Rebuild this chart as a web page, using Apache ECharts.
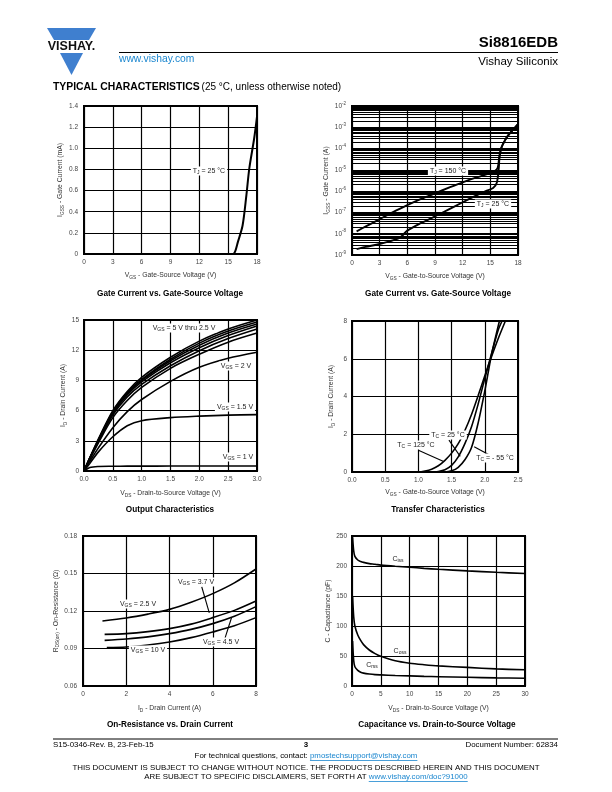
<!DOCTYPE html>
<html><head><meta charset="utf-8">
<script src="https://cdn.jsdelivr.net/npm/echarts@6/dist/echarts.min.js"></script>
<style>html,body{margin:0;padding:0;background:#fff}#c{width:612px;height:792px}</style>
</head><body><div id="c"></div>
<script>
// ---------- DATA ----------
// Chart 1: Gate current (mA) vs VGS, TJ = 25 °C
const g1Vgs  = [0.5, 3, 6, 9, 12, 15, 15.5, 15.75, 16.0, 16.5, 16.9, 17.2, 17.7, 18.0];
const g1Igss = [0, 0, 0, 0, 0, 0, 0, 0.03, 0.11, 0.27, 0.56, 0.81, 1.09, 1.3];

// Chart 2: Gate current (A, log) vs VGS
const g2Vgs150  = [0.5, 1.5, 3, 4.5, 6, 7.5, 9, 10.5, 12, 13.5, 15, 15.5, 15.8, 16.0, 16.2, 16.6, 17.0, 17.5, 18.0];
const g2Igss150 = [1.3e-8, 2.2e-8, 4.8e-8, 1.07e-7, 2.2e-7, 4.3e-7, 7.9e-7, 1.45e-6, 2.6e-6, 4.4e-6, 7.1e-6, 8.9e-6, 1.26e-5, 5.0e-5, 1.1e-4, 2.5e-4, 4.5e-4, 7.9e-4, 1.4e-3];
const g2Vgs25   = [0.5, 1.5, 3, 4.5, 5.3, 6, 7.5, 9, 10.5, 12, 13.5, 14.5, 15.3, 15.7, 15.9, 16.0, 16.2, 16.6, 17.0, 17.5, 18.0];
const g2Igss25  = [1.9e-9, 2.4e-9, 3.3e-9, 5.0e-9, 7.1e-9, 1.4e-8, 3.2e-8, 6.5e-8, 1.4e-7, 3.0e-7, 6.3e-7, 1.0e-6, 1.4e-6, 2.5e-6, 1.0e-5, 4.0e-5, 1.1e-4, 2.5e-4, 4.5e-4, 7.9e-4, 1.4e-3];

// Chart 3: Output characteristics, ID (A) vs VDS (V)
const ocVds   = [0, 0.1, 0.25, 0.5, 0.75, 1.0, 1.5, 2.0, 2.5, 3.0];
const ocId5   = [0, 1.3, 3.2, 6.0, 7.9, 9.3, 11.3, 12.9, 14.1, 15.0];
const ocId45  = [0, 1.3, 3.1, 5.9, 7.8, 9.1, 11.1, 12.7, 13.9, 14.8];
const ocId4   = [0, 1.28, 3.05, 5.8, 7.7, 9.0, 10.95, 12.5, 13.7, 14.6];
const ocId35  = [0, 1.25, 3.0, 5.7, 7.55, 8.85, 10.75, 12.25, 13.45, 14.4];
const ocId3   = [0, 1.22, 2.95, 5.55, 7.35, 8.6, 10.45, 11.95, 13.15, 14.1];
const ocId25  = [0, 1.15, 2.8, 5.3, 7.0, 8.3, 10.2, 11.6, 12.8, 13.7];
const ocId2   = [0, 0.95, 2.3, 4.3, 5.9, 7.1, 8.9, 10.3, 11.2, 11.8];
const ocId15  = [0, 0.75, 1.9, 3.4, 4.5, 5.0, 5.3, 5.45, 5.55, 5.6];
const ocId1   = [0, 0.35, 0.45, 0.47, 0.48, 0.48, 0.49, 0.49, 0.5, 0.5];

// Chart 4: Transfer characteristics, ID (A) vs VGS (V)
const trVgs125 = [0.0, 0.5, 1.0, 1.1, 1.2, 1.3, 1.4, 1.5, 1.6, 1.7, 1.8, 1.9, 2.0, 2.1, 2.2, 2.31];
const trId125  = [0, 0, 0.0, 0.05, 0.15, 0.33, 0.62, 1.0, 1.5, 2.2, 3.05, 4.05, 5.1, 6.1, 7.05, 8.0];
const trVgs25  = [0.0, 0.5, 1.0, 1.2, 1.3, 1.4, 1.5, 1.6, 1.7, 1.8, 1.9, 2.0, 2.1, 2.2, 2.26];
const trId25   = [0, 0, 0, 0.0, 0.03, 0.12, 0.35, 0.8, 1.5, 2.4, 3.6, 4.95, 6.25, 7.5, 8.0];
const trVgsM55 = [0.0, 0.5, 1.0, 1.4, 1.5, 1.6, 1.7, 1.8, 1.9, 2.0, 2.05, 2.1, 2.22];
const trIdM55  = [0, 0, 0, 0.0, 0.06, 0.25, 0.65, 1.3, 2.6, 4.3, 5.25, 6.2, 8.0];

// Chart 5: On-resistance (Ω) vs ID (A)
const ronId25  = [0.9, 2, 3, 4, 5, 6, 7, 8];
const ronR25   = [0.112, 0.1144, 0.1175, 0.1213, 0.127, 0.1339, 0.1425, 0.1536];
const ronId    = [1.0, 2, 3, 4, 5, 6, 7, 8];
const ronR37   = [0.1013, 0.1019, 0.1035, 0.1059, 0.1095, 0.1147, 0.1205, 0.128];
const ronR45   = [0.0965, 0.0976, 0.0993, 0.1019, 0.1053, 0.1099, 0.1158, 0.1235];
const ronId10  = [1.1, 2, 3, 4, 5, 6, 7, 8];
const ronR10   = [0.0907, 0.0912, 0.0928, 0.0952, 0.0987, 0.1032, 0.1082, 0.1147];

// Chart 6: Capacitance (pF) vs VDS (V)
const capVds  = [0.1, 0.3, 0.5, 1, 1.5, 2, 3, 4, 5, 7.5, 10, 12.5, 15, 20, 25, 30];
const capCiss = [248, 225, 216, 210, 207.5, 206, 204, 203, 201.5, 199.5, 198, 196, 194.5, 191.8, 189.5, 187.5];
const capCoss = [150, 115, 100, 85, 76, 69, 60, 54, 49.5, 42, 38, 35.5, 33.5, 31, 28.5, 27];
const capCrss = [75, 42, 32, 26, 23, 21.5, 20, 19, 18.5, 17.5, 16.8, 16, 15.5, 14.5, 13.5, 13];

// ---------- HELPERS ----------
const F = "'Liberation Sans', Arial, Helvetica, sans-serif";
const zip = (xs, ys) => xs.map((x, i) => [x, ys[i]]);
const nm = parts => parts.map((p, i) => (i % 2 === 0 ? '{n|' : '{s|') + p + '}').join('');
const RN = {
  n: {fontSize: 6.8, fontFamily: F, color: '#333', lineHeight: 9},
  s: {fontSize: 4.8, fontFamily: F, color: '#333', lineHeight: 5, verticalAlign: 'bottom'}
};
const RG = {
  n: {fontSize: 7, fontFamily: F, fill: '#222', color: '#222', lineHeight: 9},
  s: {fontSize: 5, fontFamily: F, fill: '#222', color: '#222', lineHeight: 5, verticalAlign: 'bottom'}
};
const grids = [
  {left: 84, top: 106, width: 173, height: 148},
  {left: 352, top: 106, width: 166, height: 149},
  {left: 84, top: 320, width: 173, height: 151},
  {left: 352, top: 321, width: 166, height: 151},
  {left: 83, top: 536, width: 173, height: 150},
  {left: 352, top: 536, width: 173, height: 150}
].map(g => Object.assign({show: true, borderColor: '#000', borderWidth: 2, backgroundColor: '#fff', containLabel: false}, g));

function ax(gi, o) {
  return Object.assign({
    gridIndex: gi, type: 'value',
    nameLocation: 'middle',
    nameTextStyle: {rich: RN},
    axisLine: {show: true, onZero: false, lineStyle: {color: '#000', width: 2}},
    axisTick: {show: false},
    axisLabel: {color: '#444', fontSize: 6.5, fontFamily: F, margin: 5},
    splitLine: {show: true, lineStyle: {color: '#000', width: 1.2}}
  }, o);
}
const f1 = v => v.toFixed(1);
const xAxes = [
  ax(0, {min: 0, max: 18, interval: 3, name: nm(['V', 'GS', ' - Gate-Source Voltage (V)']), nameGap: 17}),
  ax(1, {min: 0, max: 18, interval: 3, name: nm(['V', 'GS', ' - Gate-to-Source Voltage (V)']), nameGap: 17}),
  ax(2, {min: 0, max: 3, interval: 0.5, name: nm(['V', 'DS', ' - Drain-to-Source Voltage (V)']), nameGap: 18, axisLabel: {color: '#444', fontSize: 6.5, fontFamily: F, margin: 5, formatter: f1}}),
  ax(3, {min: 0, max: 2.5, interval: 0.5, name: nm(['V', 'GS', ' - Gate-to-Source Voltage (V)']), nameGap: 16, axisLabel: {color: '#444', fontSize: 6.5, fontFamily: F, margin: 5, formatter: f1}}),
  ax(4, {min: 0, max: 8, interval: 2, name: nm(['I', 'D', ' - Drain Current (A)']), nameGap: 18}),
  ax(5, {min: 0, max: 30, interval: 5, name: nm(['V', 'DS', ' - Drain-to-Source Voltage (V)']), nameGap: 18})
];
const yAxes = [
  ax(0, {min: 0, max: 1.4, interval: 0.2, name: nm(['I', 'GSS', ' - Gate Current (mA)']), nameGap: 11,
    axisLabel: {color: '#444', fontSize: 6.5, fontFamily: F, margin: 6, formatter: v => v === 0 ? '0' : v.toFixed(1)}}),
  ax(1, {type: 'log', logBase: 10, min: 1e-9, max: 1e-2, splitNumber: 7, name: nm(['I', 'GSS', ' - Gate Current (A)']), nameGap: 21,
    axisLabel: {color: '#444', fontSize: 6.5, fontFamily: F, margin: 6, lineHeight: 10,
      formatter: v => '10{p|' + Math.round(Math.log10(v)) + '}',
      rich: {p: {fontSize: 4.5, fontFamily: F, color: '#444', lineHeight: 5, verticalAlign: 'top'}}}}),
  ax(2, {min: 0, max: 15, interval: 3, name: nm(['I', 'D', ' - Drain Current (A)']), nameGap: 12}),
  ax(3, {min: 0, max: 8, interval: 2, name: nm(['I', 'D', ' - Drain Current (A)']), nameGap: 16}),
  ax(4, {min: 0.06, max: 0.18, interval: 0.03, name: nm(['R', 'DS(on)', ' - On-Resistance (Ω)']), nameGap: 11,
    axisLabel: {color: '#444', fontSize: 6.5, fontFamily: F, margin: 6, formatter: v => v.toFixed(2)}}),
  ax(5, {min: 0, max: 250, interval: 50, name: nm(['C - Capacitance (pF)']), nameGap: 19})
];

function ln(i, data, w, extra) {
  return Object.assign({type: 'line', xAxisIndex: i, yAxisIndex: i, data, symbol: 'none', showSymbol: false,
    smooth: 0.3, lineStyle: {color: '#000', width: w || 1.7}, silent: true, z: 5}, extra || {});
}
const arrowML = pairs => ({silent: true, symbol: ['none', 'arrow'], symbolSize: [0, 5], label: {show: false},
  lineStyle: {color: '#000', width: 1.1, type: 'solid'}, animation: false,
  data: pairs.map(p => [{coord: p[0]}, {coord: p[1]}])});

// minor log gridlines for chart 2 (2..9 × each decade), drawn across the full x range
const logMinor = [];
for (let e = -9; e <= -3; e++) for (let k = 2; k <= 9; k++) {
  const v = k * Math.pow(10, e);
  logMinor.push([{coord: [0, v]}, {coord: [18, v]}]);
}

const series = [
  ln(0, zip(g1Vgs, g1Igss), 2),
  ln(1, zip(g2Vgs150, g2Igss150), 1.9, {
    markLine: {silent: true, symbol: ['none', 'none'], label: {show: false}, animation: false, z: 1,
      lineStyle: {color: '#000', width: 1.1, type: 'solid'}, data: logMinor}}),
  ln(1, zip(g2Vgs25, g2Igss25), 1.9),
  ln(2, zip(ocVds, ocId5), 1.6), ln(2, zip(ocVds, ocId45), 1.6), ln(2, zip(ocVds, ocId4), 1.6),
  ln(2, zip(ocVds, ocId35), 1.6), ln(2, zip(ocVds, ocId3), 1.6), ln(2, zip(ocVds, ocId25), 1.6),
  ln(2, zip(ocVds, ocId2), 1.6), ln(2, zip(ocVds, ocId15), 1.6), ln(2, zip(ocVds, ocId1), 1.6),
  ln(3, zip(trVgs125, trId125), 1.6, {markLine: arrowML([[[1.0, 1.15], [1.38, 0.56]]])}),
  ln(3, zip(trVgs25, trId25), 1.6, {markLine: arrowML([[[1.46, 1.69], [1.63, 0.83]]])}),
  ln(3, zip(trVgsM55, trIdM55), 1.6, {markLine: arrowML([[[2.07, 0.9], [1.84, 1.34]]])}),
  ln(4, zip(ronId25, ronR25), 1.6),
  ln(4, zip(ronId, ronR37), 1.6, {markLine: arrowML([[[5.49, 0.1394], [5.84, 0.1185]]])}),
  ln(4, zip(ronId, ronR45), 1.6, {markLine: arrowML([[[6.56, 0.0979], [6.87, 0.1148]]])}),
  ln(4, zip(ronId10, ronR10), 1.6),
  ln(5, zip(capVds, capCiss), 1.6), ln(5, zip(capVds, capCoss), 1.6), ln(5, zip(capVds, capCrss), 1.6)
];

// text measuring for link underlines
const mctx = document.createElement('canvas').getContext('2d');
const tw = (s, size, weight) => { mctx.font = (weight || 'normal') + ' ' + size + 'px ' + F; return mctx.measureText(s).width; };

function txt(x, y, text, o) {
  return {type: 'text', x, y, z: 100, silent: true,
    style: Object.assign({text, fontFamily: F, fontSize: 7, fill: '#000', align: 'left', verticalAlign: 'middle',
      textAlign: 'left', textVerticalAlign: 'middle'}, o || {})};
}
function ann(x, y, parts, bg) {
  return {type: 'text', x, y, z: 100, silent: true,
    style: {text: nm(parts), rich: RG, fill: '#222', align: 'center', verticalAlign: 'middle',
      textAlign: 'center', textVerticalAlign: 'middle', backgroundColor: bg ? '#fff' : 'transparent', padding: [0, 2]}};
}
const blue = '#3f7fcf';
const link = '#1a86cf';
const FS = 7.9; // footer font size
const footA = 'For technical questions, contact: ', footL = 'pmostechsupport@vishay.com';
const footB = 'ARE SUBJECT TO SPECIFIC DISCLAIMERS, SET FORTH AT ', footL2 = 'www.vishay.com/doc?91000';
const wA = tw(footA, FS), wL = tw(footL, FS), wB = tw(footB, FS), wL2 = tw(footL2, FS);
const ulx1 = 306 - (wA + wL) / 2 + wA, ulx2 = 306 + (wA + wL) / 2;
const ul2x1 = 306 - (wB + wL2) / 2 + wB, ul2x2 = 306 + (wB + wL2) / 2;
const TS = 8.2; // chart title size
const graphic = [
  // logo
  {type: 'polygon', shape: {points: [[47, 28], [96, 28], [89, 40], [54, 40]]}, style: {fill: blue}},
  {type: 'polygon', shape: {points: [[60, 53], [83, 53], [71.5, 75]]}, style: {fill: blue}},
  txt(71.5, 47, 'VISHAY.', {fontSize: 12.5, fontWeight: 'bold', align: 'center', textAlign: 'center', fill: '#111'}),
  txt(119, 59, 'www.vishay.com', {fontSize: 10.3, fill: link}),
  {type: 'line', shape: {x1: 119, y1: 52.5, x2: 558, y2: 52.5}, style: {stroke: '#000', lineWidth: 1}},
  txt(558, 43, 'Si8816EDB', {fontSize: 15, fontWeight: 'bold', align: 'right', textAlign: 'right'}),
  txt(558, 62, 'Vishay Siliconix', {fontSize: 11.5, align: 'right', textAlign: 'right'}),
  txt(53, 87, '{b|TYPICAL CHARACTERISTICS} {r|(25 °C, unless otherwise noted)}', {
    rich: {b: {fontSize: 10.4, fontWeight: 'bold', fontFamily: F, fill: '#000'}, r: {fontSize: 10, fontFamily: F, fill: '#000'}}}),
  // chart titles
  txt(170, 294, 'Gate Current vs. Gate-Source Voltage', {fontSize: TS, fontWeight: 'bold', align: 'center', textAlign: 'center'}),
  txt(438, 294, 'Gate Current vs. Gate-Source Voltage', {fontSize: TS, fontWeight: 'bold', align: 'center', textAlign: 'center'}),
  txt(170, 510, 'Output Characteristics', {fontSize: TS, fontWeight: 'bold', align: 'center', textAlign: 'center'}),
  txt(438, 510, 'Transfer Characteristics', {fontSize: TS, fontWeight: 'bold', align: 'center', textAlign: 'center'}),
  txt(170, 725, 'On-Resistance vs. Drain Current', {fontSize: TS, fontWeight: 'bold', align: 'center', textAlign: 'center'}),
  txt(437, 725, 'Capacitance vs. Drain-to-Source Voltage', {fontSize: TS, fontWeight: 'bold', align: 'center', textAlign: 'center'}),
  // annotations
  ann(209, 171, ['T', 'J', ' = 25 °C'], true),
  ann(448, 171, ['T', 'J', ' = 150 °C'], true),
  ann(493, 204, ['T', 'J', ' = 25 °C'], true),
  ann(184, 328, ['V', 'GS', ' = 5 V thru 2.5 V'], true),
  ann(236, 366, ['V', 'GS', ' = 2 V'], true),
  ann(235, 407, ['V', 'GS', ' = 1.5 V'], true),
  ann(238, 457, ['V', 'GS', ' = 1 V'], true),
  ann(448, 435, ['T', 'C', ' = 25 °C'], true),
  ann(416, 445, ['T', 'C', ' = 125 °C'], true),
  ann(495, 458, ['T', 'C', ' = - 55 °C'], true),
  ann(196, 582, ['V', 'GS', ' = 3.7 V'], true),
  ann(138, 604, ['V', 'GS', ' = 2.5 V'], true),
  ann(221, 642, ['V', 'GS', ' = 4.5 V'], true),
  ann(148, 650, ['V', 'GS', ' = 10 V'], true),
  ann(398, 559, ['C', 'iss', ''], false),
  ann(400, 651, ['C', 'oss', ''], false),
  ann(372, 665, ['C', 'rss', ''], false),
  // footer
  {type: 'line', shape: {x1: 53, y1: 739, x2: 558, y2: 739}, style: {stroke: '#000', lineWidth: 1}},
  txt(53, 745, 'S15-0346-Rev. B, 23-Feb-15', {fontSize: FS}),
  txt(306, 745, '3', {fontSize: FS, fontWeight: 'bold', align: 'center', textAlign: 'center'}),
  txt(558, 745, 'Document Number: 62834', {fontSize: FS, align: 'right', textAlign: 'right'}),
  txt(306, 756, '{a|' + footA + '}{l|' + footL + '}', {align: 'center', textAlign: 'center',
    rich: {a: {fontSize: FS, fontFamily: F, fill: '#000'}, l: {fontSize: FS, fontFamily: F, fill: link}}}),
  {type: 'line', shape: {x1: ulx1, y1: 760.5, x2: ulx2, y2: 760.5}, style: {stroke: link, lineWidth: 0.8}},
  txt(306, 768, 'THIS DOCUMENT IS SUBJECT TO CHANGE WITHOUT NOTICE. THE PRODUCTS DESCRIBED HEREIN AND THIS DOCUMENT', {fontSize: FS, align: 'center', textAlign: 'center'}),
  txt(306, 777, '{a|' + footB + '}{l|' + footL2 + '}', {align: 'center', textAlign: 'center',
    rich: {a: {fontSize: FS, fontFamily: F, fill: '#000'}, l: {fontSize: FS, fontFamily: F, fill: link}}}),
  {type: 'line', shape: {x1: ul2x1, y1: 781.5, x2: ul2x2, y2: 781.5}, style: {stroke: link, lineWidth: 0.8}}
];

const chart = echarts.init(document.getElementById('c'), null, {renderer: 'canvas'});
chart.setOption({
  animation: false,
  backgroundColor: '#fff',
  textStyle: {fontFamily: F},
  grid: grids, xAxis: xAxes, yAxis: yAxes, series, graphic
});
</script>
</body></html>
